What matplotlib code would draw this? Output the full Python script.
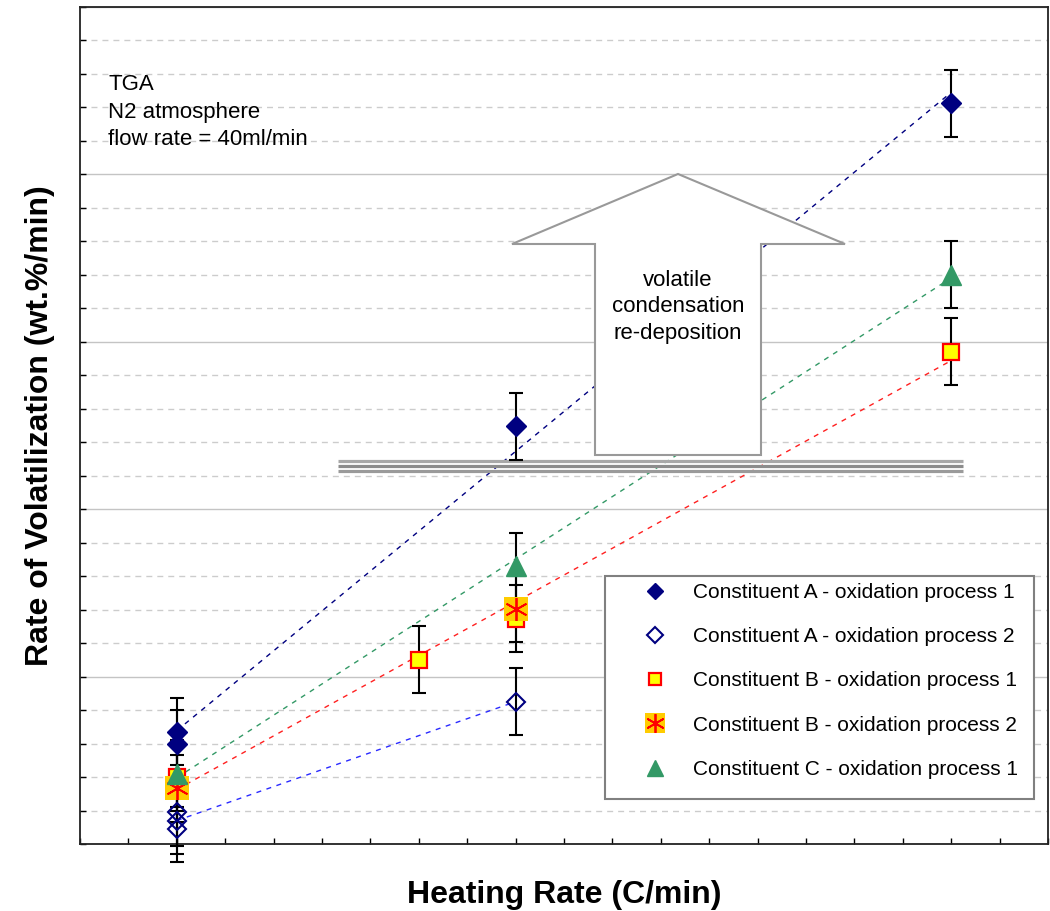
import numpy as np
import matplotlib.pyplot as plt
from matplotlib.ticker import MultipleLocator
from matplotlib.patches import Polygon, Rectangle
from matplotlib.legend_handler import HandlerTuple

plt.rcParams['font.family'] = ['Liberation Sans', 'DejaVu Sans']

### data (heating rate position, rate of volatilization) ###

a1_x = [2, 2, 9, 18]
a1_y = [3.35, 3.0, 12.48, 22.12]
a2_x = [2, 2, 2, 9]
a2_y = [0.95, 0.7, 0.45, 4.25]
b1_x = [2, 7, 9, 18]
b1_y = [2.0, 5.5, 6.73, 14.7]
b2_x = [2, 9]
b2_y = [1.66, 7.03]
c1_x = [2, 9, 18]
c1_y = [2.1, 8.3, 17.0]
err = 1.0

labels = ["Constituent A - oxidation process 1",
          "Constituent A - oxidation process 2",
          "Constituent B - oxidation process 1",
          "Constituent B - oxidation process 2",
          "Constituent C - oxidation process 1"]

note = ["TGA", "N2 atmosphere", "flow rate = 40ml/min"]
arrow_text = ["volatile", "condensation", "re-deposition"]


def trend(x, y):
    a, b = np.polyfit(x, y, 1)
    xs = np.array([min(x), max(x)])
    return xs, a*xs+b


# pixel position -> axes fraction (axes box 80..1048 x 7..844 px)
def fx(px):
    return (px-80)/968

def fy(py):
    return (844-py)/837


fig = plt.figure(figsize=(10.5, 9.11), dpi=100)
ax = fig.add_axes([80/1050, 67/911, 968/1050, 837/911])

ax.set_xlim(0, 20)
ax.set_ylim(0, 25)
ax.xaxis.set_major_locator(MultipleLocator(1))
ax.yaxis.set_major_locator(MultipleLocator(5))
ax.yaxis.set_minor_locator(MultipleLocator(1))
ax.tick_params(which="both", direction="in", length=4, width=1,
               labelbottom=False, labelleft=False)

ax.grid(axis="y", which="major", color="#c4c4c4", lw=1, ls="-", zorder=0)
ax.grid(axis="y", which="minor", color="#cccccc", lw=1, ls=(0, (4.3, 3.6)), zorder=0)
ax.set_axisbelow(True)
for s in ax.spines.values():
    s.set_linewidth(1.3)
    s.set_color("#222222")

# trend lines
dash = (0, (3.6, 4))
for xx, yy, col in [(a1_x, a1_y, "#000080"), (a2_x, a2_y, "#2a2aff"),
                    (b1_x, b1_y, "#ff2020"), (c1_x, c1_y, "#339966")]:
    xs, ys = trend(xx, yy)
    ax.plot(xs, ys, ls=dash, lw=1, color=col, zorder=2)

# arrow
arrow = Polygon([(fx(678), fy(174)), (fx(845), fy(244)), (fx(761), fy(244)),
                 (fx(761), fy(455)), (fx(595), fy(455)), (fx(595), fy(244)),
                 (fx(512), fy(244))], closed=True, transform=ax.transAxes,
                facecolor="white", edgecolor="#999999", lw=1.5, zorder=3)
ax.add_patch(arrow)
ax.text(fx(678), fy(307), "\n".join(arrow_text), transform=ax.transAxes,
        ha="center", va="center", fontsize=16, linespacing=1.35, zorder=4)

# triple barrier lines
for py, col in [(461, "#a8a8a8"), (466, "#8c8c8c"), (471, "#9a9a9a")]:
    ax.plot([fx(338), fx(963)], [fy(py), fy(py)], transform=ax.transAxes,
            color=col, lw=2.3, solid_capstyle="butt", zorder=3)

ax.text(fx(108), fy(74), "\n".join(note), transform=ax.transAxes,
        ha="left", va="top", fontsize=16, linespacing=1.41)

# error bars
for xx, yy in [(a1_x, a1_y), (a2_x, a2_y), (b1_x, b1_y), (b2_x, b2_y), (c1_x, c1_y)]:
    ax.errorbar(xx, yy, yerr=err, fmt="none", ecolor="black", elinewidth=1.5,
                capsize=5, capthick=1.5, zorder=5, clip_on=False)

# markers
h1, = ax.plot(a1_x, a1_y, "D", ms=10.3, color="#000080", mec="#000080",
              ls="none", zorder=6, clip_on=False)
h2, = ax.plot(a2_x, a2_y, "D", ms=9.5, mfc="none", mec="#000080", mew=1.5,
              ls="none", zorder=6, clip_on=False)
h3, = ax.plot(b1_x, b1_y, "s", ms=11, mfc="#ffff00", mec="#ff0000", mew=1.6,
              ls="none", zorder=6, clip_on=False)
h4a, = ax.plot(b2_x, b2_y, "s", ms=17.5, mfc="#ffcc00", mec="#ffcc00", mew=0,
               ls="none", zorder=7, clip_on=False)
h4b, = ax.plot(b2_x, b2_y, marker=(6, 2, 0), ms=16.5, mec="#ff0000", mew=1.3,
               ls="none", zorder=8, clip_on=False)
h5, = ax.plot(c1_x, c1_y, "^", ms=14, color="#339966", mec="#339966",
              ls="none", zorder=9, clip_on=False)

ax.add_patch(Rectangle((fx(605), fy(799)), fx(1034)-fx(605), fy(576)-fy(799),
                       transform=ax.transAxes, facecolor="white",
                       edgecolor="#808080", lw=1.5, zorder=10))
leg = ax.legend([h1, h2, h3, (h4a, h4b), h5], labels,
                handler_map={tuple: HandlerTuple(ndivide=1)},
                loc="upper left", bbox_to_anchor=(fx(634), fy(583)),
                frameon=False, borderpad=0, borderaxespad=0, handlelength=2,
                handletextpad=0.83, labelspacing=1.21, fontsize=15,
                markerscale=0.82, numpoints=1)
leg.set_zorder(11)

ax.set_xlabel("Heating Rate (C/min)", fontsize=23, fontweight="bold", labelpad=26)
ax.set_ylabel("Rate of Volatilization (wt.%/min)", fontsize=23, fontweight="bold",
              labelpad=18)

fig.savefig("out.png", dpi=100)
